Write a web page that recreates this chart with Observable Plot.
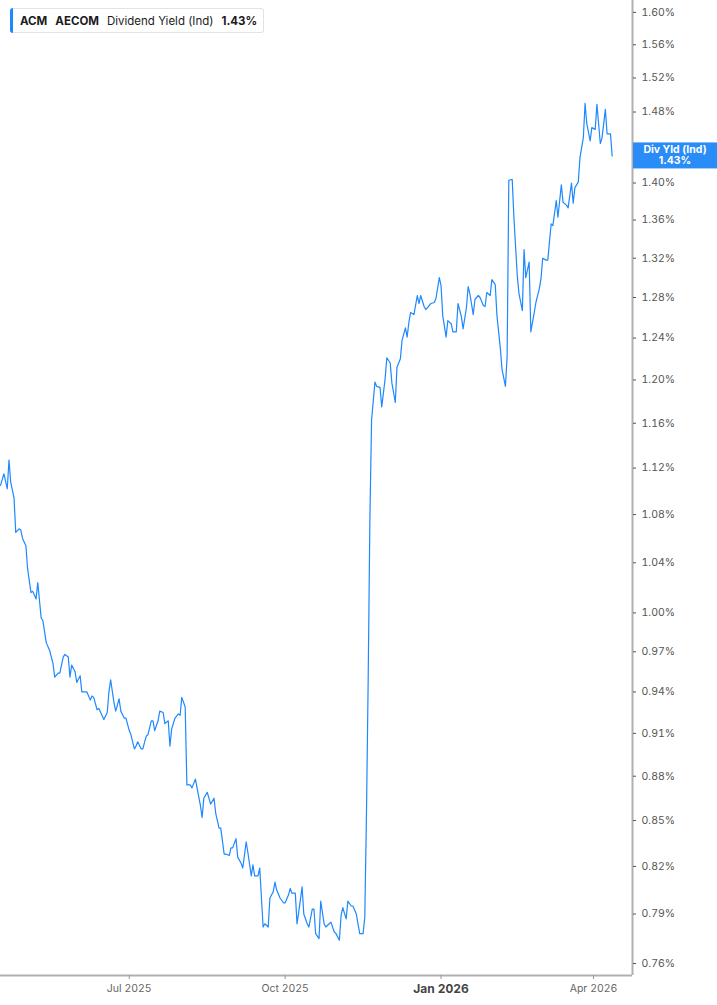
<!DOCTYPE html>
<html>
<head>
<meta charset="utf-8">
<script src="https://cdn.jsdelivr.net/npm/d3@7"></script>
<script src="https://cdn.jsdelivr.net/npm/@observablehq/plot@0.6"></script>
<style>
  html, body { margin: 0; padding: 0; background: #fff; }
  body { font-family: Inter, "Noto Sans", sans-serif; }
  #wrap { position: relative; width: 717px; height: 1005px; overflow: hidden; }
  #legend {
    position: absolute; left: 10px; top: 8px; height: 23px;
    display: flex; align-items: center;
    border: 1px solid #e3e3e3; border-left: none; border-radius: 3px;
    background: #fff; font-size: 11.5px; color: #1c1c1c;
    padding-right: 6px; box-sizing: content-box;
  }
  #legend .bar { width: 3px; height: 25px; background: #1e88ff; border-radius: 3px 0 0 3px; margin: -1px 7px -1px 0; }
  #legend span { white-space: nowrap; }
  #legend .b { font-weight: 700; }
  #legend .gap { margin-right: 8px; }
</style>
</head>
<body>
<div id="wrap">
  <div id="legend">
    <div class="bar"></div>
    <span class="b gap" id="lg-ticker"></span>
    <span class="b gap" id="lg-name"></span>
    <span class="gap" id="lg-metric"></span>
    <span class="b" id="lg-value"></span>
  </div>
</div>
<script>
// ---- data ----
const ticker = "ACM";
const company = "AECOM";
const metric = "Dividend Yield (Ind)";
const shortMetric = "Div Yld (Ind)";

const dates = [
  "2025-04-16","2025-04-18","2025-04-20","2025-04-21","2025-04-22","2025-04-24","2025-04-25","2025-04-27","2025-04-28","2025-04-29",
  "2025-05-01","2025-05-02","2025-05-04","2025-05-05","2025-05-07","2025-05-08","2025-05-10","2025-05-11","2025-05-13","2025-05-15",
  "2025-05-17","2025-05-18","2025-05-20","2025-05-21","2025-05-23","2025-05-24","2025-05-26","2025-05-27","2025-05-28","2025-05-30",
  "2025-05-31","2025-06-02","2025-06-03","2025-06-05","2025-06-06","2025-06-08","2025-06-09","2025-06-10","2025-06-12","2025-06-13",
  "2025-06-16","2025-06-18","2025-06-19","2025-06-20","2025-06-22","2025-06-23","2025-06-25","2025-06-26","2025-06-28","2025-06-29",
  "2025-07-01","2025-07-02","2025-07-04","2025-07-05","2025-07-06","2025-07-08","2025-07-09","2025-07-11","2025-07-12","2025-07-14",
  "2025-07-15","2025-07-16","2025-07-18","2025-07-19","2025-07-21","2025-07-22","2025-07-24","2025-07-25","2025-07-26","2025-07-28",
  "2025-07-30","2025-07-31","2025-08-01","2025-08-03","2025-08-04","2025-08-06","2025-08-07","2025-08-09","2025-08-10","2025-08-12",
  "2025-08-13","2025-08-14","2025-08-16","2025-08-17","2025-08-18","2025-08-20","2025-08-21","2025-08-23","2025-08-24","2025-08-26",
  "2025-08-27","2025-08-29","2025-08-30","2025-08-31","2025-09-02","2025-09-03","2025-09-05","2025-09-06","2025-09-08","2025-09-09",
  "2025-09-11","2025-09-12","2025-09-13","2025-09-15","2025-09-16","2025-09-18","2025-09-19","2025-09-21","2025-09-22","2025-09-24",
  "2025-09-25","2025-09-26","2025-09-28","2025-09-30","2025-10-01","2025-10-03","2025-10-04","2025-10-05","2025-10-07","2025-10-08",
  "2025-10-09","2025-10-11","2025-10-12","2025-10-14","2025-10-15","2025-10-17","2025-10-18","2025-10-19","2025-10-21","2025-10-22",
  "2025-10-24","2025-10-25","2025-10-27","2025-10-28","2025-10-30","2025-10-31","2025-11-02","2025-11-03","2025-11-04","2025-11-06",
  "2025-11-07","2025-11-09","2025-11-10","2025-11-12","2025-11-13","2025-11-14","2025-11-16","2025-11-17","2025-11-18","2025-11-19",
  "2025-11-20","2025-11-21","2025-11-23","2025-11-24","2025-11-26","2025-11-27","2025-11-29","2025-11-30","2025-12-02","2025-12-03",
  "2025-12-05","2025-12-06","2025-12-08","2025-12-09","2025-12-11","2025-12-12","2025-12-13","2025-12-14","2025-12-16","2025-12-18",
  "2025-12-19","2025-12-20","2025-12-22","2025-12-23","2025-12-25","2025-12-26","2025-12-28","2025-12-29","2025-12-31","2026-01-01",
  "2026-01-02","2026-01-04","2026-01-05","2026-01-07","2026-01-08","2026-01-10","2026-01-11","2026-01-13","2026-01-14","2026-01-16",
  "2026-01-17","2026-01-18","2026-01-20","2026-01-21","2026-01-23","2026-01-24","2026-01-26","2026-01-27","2026-01-28","2026-01-30",
  "2026-01-31","2026-02-02","2026-02-03","2026-02-05","2026-02-06","2026-02-08","2026-02-09","2026-02-10","2026-02-12","2026-02-13",
  "2026-02-15","2026-02-16","2026-02-18","2026-02-19","2026-02-20","2026-02-22","2026-02-23","2026-02-25","2026-02-26","2026-02-28",
  "2026-03-01","2026-03-02","2026-03-04","2026-03-05","2026-03-07","2026-03-08","2026-03-10","2026-03-11","2026-03-13","2026-03-14",
  "2026-03-16","2026-03-17","2026-03-19","2026-03-20","2026-03-21","2026-03-23","2026-03-24","2026-03-26","2026-03-27","2026-03-28",
  "2026-03-30","2026-03-31","2026-04-02","2026-04-03","2026-04-05","2026-04-06","2026-04-08","2026-04-09","2026-04-11","2026-04-12"
];

const values = [
  1.105,1.115,1.102,1.127,1.108,1.094,1.065,1.068,1.067,1.060,
  1.054,1.035,1.016,1.017,1.011,1.024,0.996,0.994,0.977,0.971,
  0.961,0.951,0.954,0.954,0.966,0.968,0.966,0.951,0.960,0.955,
  0.947,0.952,0.940,0.940,0.940,0.934,0.937,0.936,0.927,0.928,
  0.920,0.925,0.940,0.949,0.932,0.926,0.935,0.926,0.921,0.921,
  0.912,0.909,0.899,0.901,0.904,0.899,0.899,0.908,0.909,0.919,
  0.919,0.912,0.919,0.926,0.925,0.917,0.919,0.901,0.913,0.921,
  0.924,0.923,0.936,0.929,0.874,0.874,0.872,0.878,0.872,0.860,
  0.852,0.865,0.869,0.865,0.861,0.865,0.855,0.845,0.845,0.828,
  0.828,0.827,0.832,0.832,0.838,0.826,0.822,0.819,0.836,0.829,
  0.814,0.821,0.814,0.814,0.819,0.782,0.784,0.782,0.800,0.804,
  0.810,0.805,0.800,0.797,0.797,0.802,0.806,0.803,0.803,0.784,
  0.791,0.807,0.790,0.784,0.782,0.793,0.793,0.778,0.775,0.798,
  0.784,0.782,0.784,0.785,0.779,0.778,0.774,0.789,0.794,0.787,
  0.798,0.795,0.795,0.790,0.784,0.778,0.778,0.788,0.855,0.949,
  1.075,1.163,1.198,1.194,1.193,1.175,1.201,1.221,1.216,1.197,
  1.179,1.212,1.220,1.238,1.250,1.241,1.255,1.265,1.263,1.282,
  1.274,1.282,1.271,1.268,1.272,1.274,1.275,1.279,1.300,1.292,
  1.262,1.241,1.257,1.254,1.246,1.246,1.274,1.261,1.249,1.270,
  1.291,1.284,1.263,1.278,1.282,1.280,1.272,1.271,1.285,1.282,
  1.298,1.293,1.262,1.230,1.210,1.194,1.222,1.403,1.404,1.363,
  1.302,1.284,1.267,1.329,1.300,1.316,1.246,1.265,1.275,1.289,
  1.299,1.320,1.318,1.318,1.356,1.354,1.381,1.363,1.398,1.379,
  1.376,1.373,1.400,1.378,1.395,1.401,1.428,1.451,1.490,1.467,
  1.447,1.462,1.460,1.489,1.444,1.450,1.483,1.455,1.455,1.430
];

const xDomain = ["2025-04-16", "2026-04-24"];
const yDomain = [0.7529, 1.615];
const yTicks = [0.76,0.79,0.82,0.85,0.88,0.91,0.94,0.97,1.00,1.04,1.08,1.12,1.16,1.20,1.24,1.28,1.32,1.36,1.40,1.48,1.52,1.56,1.60];
const xTicks = ["2025-07-01","2025-10-01","2026-01-01","2026-04-01"];
const xTickLabels = ["Jul 2025","Oct 2025","Jan 2026","Apr 2026"];
const boldTickLabel = "Jan 2026";

// ---- build ----
const lineColor = "#1e88ff";
const boxColor = "#2a8cf6";
const axisColor = "#b0b0b0";
const data = dates.map((d, i) => ({ date: new Date(d), value: values[i] }));
const last = data[data.length - 1];
const xTickDates = xTicks.map(d => new Date(d));
const fmtPct = v => v.toFixed(2) + "%";

document.getElementById("lg-ticker").textContent = ticker;
document.getElementById("lg-name").textContent = company;
document.getElementById("lg-metric").textContent = metric;
document.getElementById("lg-value").textContent = fmtPct(last.value);

const plot = Plot.plot({
  width: 717,
  height: 1005,
  marginTop: 0,
  marginBottom: 30,
  marginLeft: 0,
  marginRight: 85,
  style: { fontFamily: "Inter, 'Noto Sans', sans-serif", fontSize: "10.5px", color: "#555", background: "#fff", overflow: "visible" },
  x: { type: "utc", domain: xDomain.map(d => new Date(d)) },
  y: { type: "log", domain: yDomain },
  marks: [
    Plot.ruleX([new Date(xDomain[1])], { stroke: axisColor, strokeWidth: 2 }),
    Plot.ruleY([yDomain[0]], { stroke: axisColor, strokeWidth: 2 }),
    Plot.axisY({
      anchor: "right", ticks: yTicks, tickFormat: fmtPct, tickSize: 3, tickPadding: 6,
      stroke: "#555", fill: "#555", label: null
    }),
    Plot.axisX({
      ticks: xTickDates,
      tickFormat: d => xTickLabels[xTickDates.findIndex(t => +t === +d)],
      tickSize: 4, tickPadding: 5, stroke: "#999", fill: "#666", label: null
    }),
    Plot.line(data, { x: "date", y: "value", stroke: lineColor, strokeWidth: 1.2 })
  ]
});

document.getElementById("wrap").prepend(plot);

const svg = d3.select(plot);
svg.selectAll("text").filter(function () { return this.textContent === boldTickLabel; })
  .attr("font-weight", "700").attr("fill", "#444").attr("font-size", "12px");

// current value tag on the right axis
const xs = plot.scale("x");
const ys = plot.scale("y");
const x0 = xs.range[1] + 1;
const yc = ys.apply(last.value);
const tag = svg.append("g");
tag.append("rect")
  .attr("x", x0).attr("y", yc - 13).attr("width", 717 - x0).attr("height", 26)
  .attr("fill", boxColor);
tag.append("text")
  .attr("x", (x0 + 717) / 2).attr("y", yc - 2.5)
  .attr("text-anchor", "middle").attr("fill", "#fff")
  .attr("font-weight", "700").attr("font-size", "10.5px")
  .text(shortMetric);
tag.append("text")
  .attr("x", (x0 + 717) / 2).attr("y", yc + 8.5)
  .attr("text-anchor", "middle").attr("fill", "#fff")
  .attr("font-weight", "700").attr("font-size", "10.5px")
  .text(fmtPct(last.value));
</script>
</body>
</html>
